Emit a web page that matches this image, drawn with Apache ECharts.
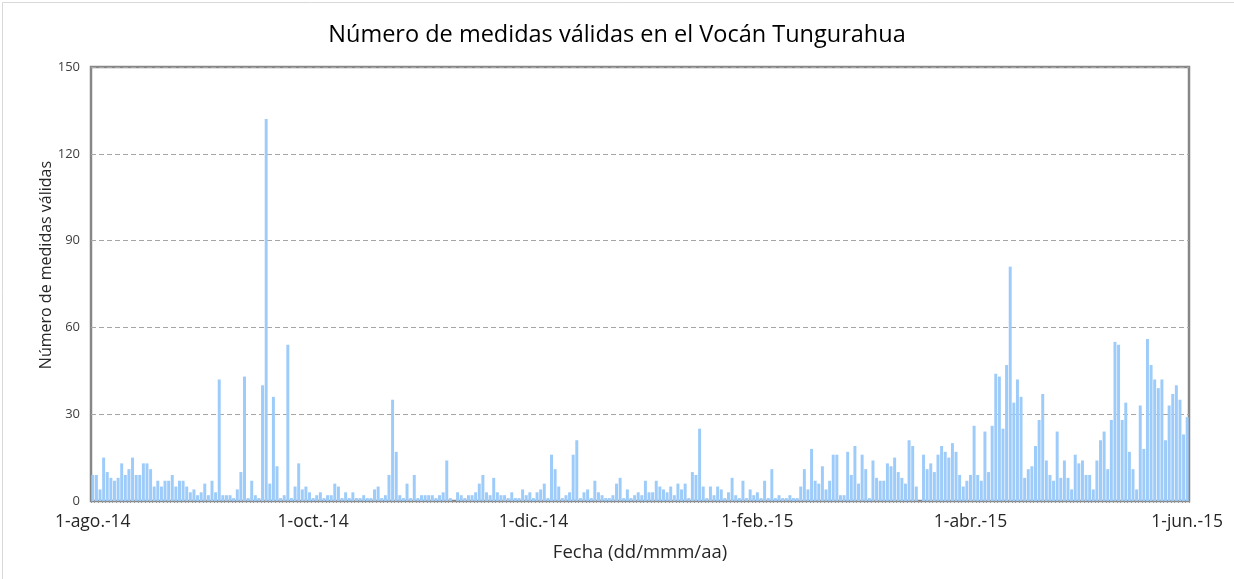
<!DOCTYPE html>
<html>
<head>
<meta charset="utf-8">
<script src="https://cdn.jsdelivr.net/npm/echarts@6/dist/echarts.min.js"></script>
<style>
  html, body { margin: 0; padding: 0; background: #fff; }
  #chart { width: 1234px; height: 579px; }
</style>
</head>
<body>
<div id="chart"></div>
<script>
// daily counts, one array per month (1-ago.-14 .. 31-may.-15)
const ago14 = [9, 9, 4, 15, 10, 8, 7, 8, 13, 9, 11, 15, 9, 9, 13, 13, 11, 5, 7, 5, 7, 7, 9, 5, 7, 7, 5, 3, 4, 2, 3]
const sep14 = [6, 2, 7, 3, 42, 2, 2, 2, 1, 4, 10, 43, 1, 7, 2, 1, 40, 132, 6, 36, 12, 1, 2, 54, 1, 5, 13, 4, 5, 3]
const oct14 = [1, 2, 3, 1, 2, 2, 6, 5, 1, 3, 1, 3, 1, 1, 2, 1, 1, 4, 5, 1, 2, 9, 35, 17, 2, 1, 6, 1, 9, 1, 2]
const nov14 = [2, 2, 2, 1, 2, 3, 14, 1, 0, 3, 2, 1, 2, 2, 3, 6, 9, 3, 2, 8, 3, 2, 2, 1, 3, 1, 1, 4, 2, 3]
const dic14 = [1, 3, 4, 6, 1, 16, 11, 5, 1, 2, 3, 16, 21, 1, 3, 4, 1, 7, 3, 2, 1, 1, 2, 6, 8, 1, 4, 1, 2, 3, 2]
const ene15 = [7, 3, 3, 7, 5, 4, 3, 5, 2, 6, 4, 6, 1, 10, 9, 25, 5, 1, 5, 2, 5, 4, 1, 3, 8, 2, 1, 7, 1, 4, 2]
const feb15 = [3, 1, 7, 1, 11, 1, 2, 1, 1, 2, 1, 1, 5, 11, 4, 18, 7, 6, 12, 4, 7, 16, 16, 2, 2, 17, 9, 19]
const mar15 = [6, 16, 11, 1, 14, 8, 7, 7, 13, 12, 15, 10, 8, 6, 21, 19, 5, 0, 16, 11, 13, 10, 16, 19, 17, 15, 20, 17, 9, 5, 7]
const abr15 = [9, 26, 9, 7, 24, 10, 26, 44, 43, 25, 47, 81, 34, 42, 36, 8, 11, 12, 19, 28, 37, 14, 9, 7, 24, 8, 14, 8, 4, 16]
const may15 = [13, 14, 9, 9, 4, 14, 21, 24, 11, 28, 55, 54, 28, 34, 17, 11, 4, 33, 18, 56, 47, 42, 39, 42, 21, 33, 37, 40, 35, 23, 29]

const monthNames = ['ene.', 'feb.', 'mar.', 'abr.', 'may.', 'jun.', 'jul.', 'ago.', 'sep.', 'oct.', 'nov.', 'dic.']
const yTicks = [0, 30, 60, 90, 120, 150]
// x labels shown on the axis: category index -> text
const tickIndex = [0, 61, 122, 184, 243, 303]
const tickText = ['1-ago.-14', '1-oct.-14', '1-dic.-14', '1-feb.-15', '1-abr.-15', '1-jun.-15']

const values = [].concat(ago14, sep14, oct14, nov14, dic14, ene15, feb15, mar15, abr15, may15)
const days = []
for (let i = 0; i < values.length; i++) {
  const d = new Date(2014, 7, 1 + i)
  days.push(d.getDate() + '-' + monthNames[d.getMonth()] + '-' + String(d.getFullYear()).slice(2))
}

const chart = echarts.init(document.getElementById('chart'), null, { renderer: 'canvas' })

const font = '"Open Sans", "Noto Sans", sans-serif'

chart.setOption({
  animation: false,
  textStyle: { fontFamily: font },
  title: {
    text: 'Número de medidas válidas en el Vocán Tungurahua',
    left: 'center',
    top: 18,
    textStyle: { fontFamily: font, fontSize: 23.5, fontWeight: 'normal', color: '#000' }
  },
  graphic: [
    {
      type: 'rect',
      left: 0, top: 0,
      shape: { width: 1233, height: 578 },
      style: { fill: 'none', stroke: '#d9d9d9', lineWidth: 1 },
      silent: true
    },
    {
      // y axis title, Excel puts it a bit above the plot centre
      type: 'text',
      x: 46,
      y: 265,
      rotation: Math.PI / 2,
      style: {
        text: 'Número de medidas válidas',
        fontFamily: font,
        fontSize: 16,
        fill: '#262626',
        align: 'center',
        verticalAlign: 'middle'
      },
      silent: true
    }
  ],
  grid: {
    left: 91,
    right: 45,
    top: 67,
    bottom: 78,
    show: true,
    borderColor: '#878787',
    borderWidth: 2.5
  },
  xAxis: {
    type: 'category',
    data: days,
    name: 'Fecha (dd/mmm/aa)',
    nameLocation: 'middle',
    nameGap: 42,
    nameTextStyle: { fontFamily: font, fontSize: 18.5, color: '#262626' },
    axisLine: { lineStyle: { color: '#878787', width: 2 } },
    axisTick: { show: true, interval: 0, length: 2, lineStyle: { color: '#9a9a9a' } },
    axisLabel: {
      interval: (idx) => tickIndex.indexOf(idx) >= 0,
      formatter: (val, idx) => tickText[tickIndex.indexOf(idx)] || '',
      margin: 12,
      fontSize: 17.5,
      color: '#262626',
      fontFamily: font
    }
  },
  yAxis: {
    type: 'value',
    min: yTicks[0],
    max: yTicks[yTicks.length - 1],
    interval: 30,
    axisLine: { show: false },
    axisTick: { show: false },
    axisLabel: { fontSize: 13, color: '#404040', margin: 11, fontFamily: font },
    splitLine: { lineStyle: { color: '#a6a6a6', type: [5, 3], width: 1 } }
  },
  series: [{
    type: 'bar',
    data: values,
    barCategoryGap: '18%',
    itemStyle: { color: '#9dcbfa' }
  }]
})
</script>
</body>
</html>
